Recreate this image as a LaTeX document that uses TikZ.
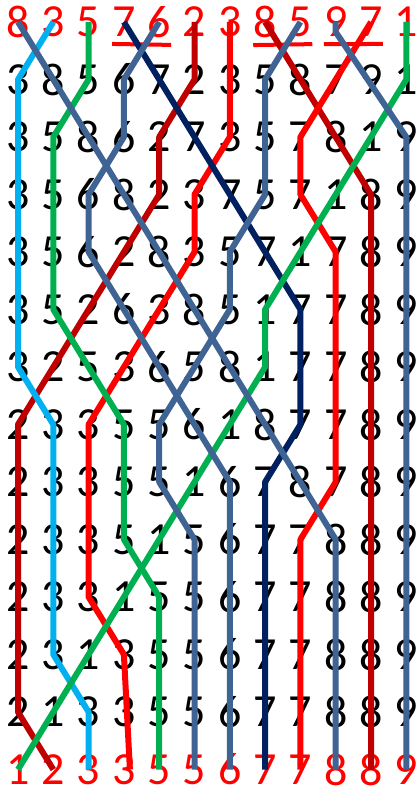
\documentclass[tikz,border=0pt]{standalone}
\usepackage{fontspec}
\setmainfont{Carlito}
\usepackage{tikz}
\definecolor{lineSlate}{HTML}{3F6494}
\definecolor{lineSky}{HTML}{00B0F0}
\definecolor{lineGreen}{HTML}{00B050}
\definecolor{lineNavy}{HTML}{002060}
\definecolor{lineDarkRed}{HTML}{C00000}
\definecolor{lineRed}{HTML}{FF0000}

\begin{document}
\begin{tikzpicture}[
            x=35.3pt, y=-57.5pt,
            digit/.style={
                    inner sep=0pt,
                    font=\fontsize{46}{46}\selectfont
                },
            ends/.style={digit, text=lineRed},
            trace/.style={line width=6pt, line join=round},
            pairline/.style={draw=lineRed, line width=4pt}
        ]
        \useasboundingbox (-18pt,22pt) rectangle (399pt,-767pt);

        \foreach \d [count=\cl from 0] in {8,3,5,7,6,2,3,8,5,9,7,1}
            \node[ends] (d0-\cl) at (\cl,0) {\d};
        \foreach \digits [count=\rw from 1] in {
                {3,8,5,6,7,2,3,5,8,7,9,1},
                {3,5,8,6,2,7,3,5,7,8,1,9},
                {3,5,6,8,2,3,7,5,7,1,8,9},
                {3,5,6,2,8,3,5,7,1,7,8,9},
                {3,5,2,6,3,8,5,1,7,7,8,9},
                {3,2,5,3,6,5,8,1,7,7,8,9},
                {2,3,3,5,5,6,1,8,7,7,8,9},
                {2,3,3,5,5,1,6,7,8,7,8,9},
                {2,3,3,5,1,5,6,7,7,8,8,9},
                {2,3,3,1,5,5,6,7,7,8,8,9},
                {2,3,1,3,5,5,6,7,7,8,8,9},
                {2,1,3,3,5,5,6,7,7,8,8,9}}
            \foreach \d [count=\cl from 0] in \digits
                \node[digit] (d\rw-\cl) at (\cl,\rw) {\d};
        \foreach \d [count=\cl from 0] in {1,2,3,3,5,5,6,7,7,8,8,9}
            \node[ends] (d13-\cl) at (\cl,13) {\d};

        \draw[pairline] ([yshift=-7pt]d0-3.south west) -- ([yshift=-7pt]d0-4.south east);
        \draw[pairline] ([yshift=-7pt]d0-7.south west) -- ([yshift=-7pt]d0-8.south east);
        \draw[pairline] ([yshift=-7pt]d0-9.south west) -- ([yshift=-7pt]d0-10.south east);

        \draw[trace, lineDarkRed] (d0-5.center) -- (d1-5.center) -- (d2-4.center) -- (d3-4.center)
            -- (d7-0.center) -- (d12-0.center) -- (d13-1.center);
        \draw[trace, lineDarkRed] (d0-7.center) -- (d3-10.center) -- (d13-10.center);
        \draw[trace, lineRed] (d0-6.center) -- (d2-6.center) -- (d3-5.center) -- (d4-5.center)
            -- (d7-2.center) -- (d10-2.center) -- (d11-3.center) -- ([xshift=6pt]d13-3.center);
        \draw[trace, lineRed] (d0-10.center) -- (d2-8.center) -- (d3-8.center) -- (d4-9.center)
            -- (d8-9.center) -- (d9-8.center) -- (d13-8.center);
        \draw[trace, lineNavy] (d0-3.center) -- (d5-8.center) -- (d7-8.center) -- (d8-7.center)
            -- (d13-7.center);
        \draw[trace, lineSky] (d0-1.center) -- (d1-0.center) -- (d6-0.center) -- (d7-1.center)
            -- (d11-1.center) -- (d12-2.center) -- (d13-2.center);
        \draw[trace, lineGreen] (d0-2.center) -- (d1-2.center) -- (d2-1.center) -- (d5-1.center)
            -- (d7-3.center) -- (d9-3.center) -- (d10-4.center) -- (d13-4.center);
        \draw[trace, lineGreen] (d0-11.center) -- (d1-11.center) -- (d5-7.center) -- (d6-7.center)
            -- (d13-0.center);
        \draw[trace, lineSlate] (d0-0.center) -- (d9-9.center) -- (d13-9.center);
        \draw[trace, lineSlate] (d0-4.center) -- (d1-3.center) -- (d2-3.center) -- (d3-2.center)
            -- (d4-2.center) -- (d8-6.center) -- (d13-6.center);
        \draw[trace, lineSlate] (d0-8.center) -- (d1-7.center) -- (d3-7.center) -- (d4-6.center)
            -- (d5-6.center) -- (d7-4.center) -- (d8-4.center) -- (d9-5.center) -- (d13-5.center);
        \draw[trace, lineSlate] (d0-9.center) -- ([yshift=-10pt]d0-9.center) -- (d2-11.center)
            -- (d13-11.center);
    \end{tikzpicture}
\end{document}
